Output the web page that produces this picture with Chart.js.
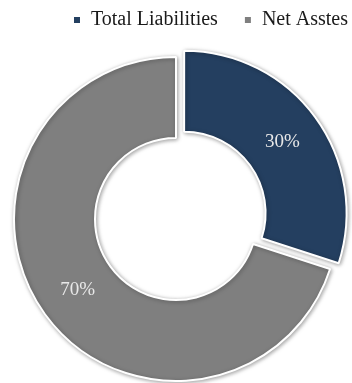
<!DOCTYPE html>
<html>
<head>
<meta charset="utf-8">
<script src="https://cdn.jsdelivr.net/npm/chart.js@4"></script>
<style>
  html, body { margin: 0; padding: 0; background: #fff; overflow: hidden; }
  #wrap { width: 352px; height: 383px; position: relative; }
</style>
</head>
<body>
<div id="wrap"><canvas id="myChart"></canvas></div>
<script>
const categories = ["Total Liabilities", "Net Asstes"];
const shares = [30, 70];
const sliceColors = ["#243f60", "#7f7f7f"];
const sliceOffsets = [40, 0]; // chart.js draws offset / 4

const serif = "'Liberation Serif', 'DejaVu Serif', serif";

// extra room under the legend so the ring sits lower
const legendRoom = {
  id: "legendRoom",
  beforeLayout(chart) {
    const legend = chart.legend;
    if (legend && !legend._roomAdded) {
      legend._roomAdded = true;
      const fit = legend.fit;
      legend.fit = function () {
        fit.call(this);
        this.height += 15;
      };
    }
  },
};

// soft shadow under the slices
const shadowPlugin = {
  id: "sliceShadow",
  beforeDatasetsDraw(chart) {
    const ctx = chart.ctx;
    ctx.save();
    ctx.shadowColor = "rgba(0, 0, 0, 0.35)";
    ctx.shadowBlur = 4;
    ctx.shadowOffsetX = 1;
    ctx.shadowOffsetY = 1;
  },
  afterDatasetsDraw(chart) {
    chart.ctx.restore();
  },
};

// percentage labels in the middle of each slice
const labelPlugin = {
  id: "sliceLabels",
  afterDatasetsDraw(chart) {
    const ctx = chart.ctx;
    const meta = chart.getDatasetMeta(0);
    ctx.save();
    ctx.fillStyle = "#e8e8e8";
    ctx.font = "19px " + serif;
    ctx.textAlign = "center";
    ctx.textBaseline = "middle";
    meta.data.forEach((arc, i) => {
      const mid = (arc.startAngle + arc.endAngle) / 2;
      const r = (arc.innerRadius + arc.outerRadius) / 2 + sliceOffsets[i] / 4;
      ctx.fillText(shares[i] + "%", arc.x + Math.cos(mid) * r, arc.y + Math.sin(mid) * r);
    });
    ctx.restore();
  },
};

new Chart(document.getElementById("myChart"), {
  type: "doughnut",
  data: {
    labels: categories,
    datasets: [
      {
        data: shares,
        backgroundColor: sliceColors,
        borderColor: "#ffffff",
        borderWidth: 2,
        offset: sliceOffsets,
      },
    ],
  },
  options: {
    responsive: true,
    maintainAspectRatio: false,
    animation: false,
    cutout: "50%",
    radius: 162,
    layout: {
      padding: { top: -16, bottom: 0, left: -22, right: -22 },
    },
    plugins: {
      tooltip: { enabled: false },
      legend: {
        position: "top",
        align: "end",
        labels: {
          color: "#1a1a1a",
          font: { size: 20, family: serif },
          boxWidth: 8,
          boxHeight: 8,
          padding: 26,
        },
      },
    },
  },
  plugins: [legendRoom, shadowPlugin, labelPlugin],
});
</script>
</body>
</html>
